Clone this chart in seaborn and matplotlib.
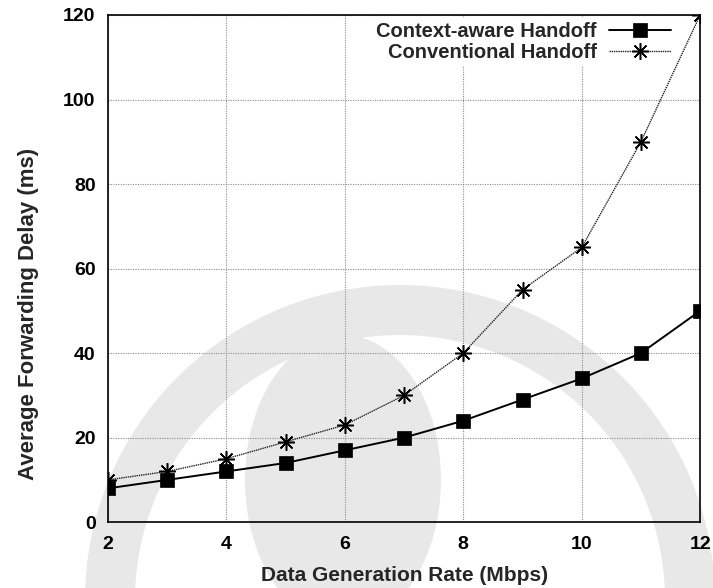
import matplotlib
matplotlib.use("Agg")
import matplotlib.pyplot as plt
import seaborn as sns
import pandas as pd
from matplotlib.patches import Wedge, Ellipse
from matplotlib.font_manager import FontProperties

rates = [2, 3, 4, 5, 6, 7, 8, 9, 10, 11, 12]
context_aware = [8, 10, 12, 14, 17, 20, 24, 29, 34, 40, 50]
conventional = [10, 12, 15, 19, 23, 30, 40, 55, 65, 90, 120]
x_ticks = [2, 4, 6, 8, 10, 12]
y_ticks = [0, 20, 40, 60, 80, 100, 120]

sns.set_theme(style="white")
plt.rcParams['font.family'] = ['Liberation Sans', 'DejaVu Sans']
plt.rcParams['font.weight'] = 'bold'

fig = plt.figure(figsize=(7.13, 5.88), dpi=100)

# faint background watermark (pixel coordinates)
bg = fig.add_axes([0, 0, 1, 1], zorder=-1)
bg.set_xlim(0, 713)
bg.set_ylim(588, 0)
bg.axis('off')
wm = '#e8e8e8'
bg.add_patch(Wedge((400, 600), 315, 180, 360, width=50, facecolor=wm, edgecolor='none'))
bg.add_patch(Ellipse((343, 480), 196, 290, facecolor=wm, edgecolor='none'))

ax = fig.add_axes([0.1515, 0.112, 0.8305, 0.8625], zorder=1)
ax.set_facecolor('none')

df = pd.DataFrame({"rate": rates, "ca": context_aware, "cv": conventional})

sns.lineplot(data=df, x="rate", y="ca", ax=ax, color='black', linewidth=1.4,
             marker='s', markersize=10, markeredgecolor='black', markeredgewidth=0.5,
             label='Context-aware Handoff', zorder=3)
sns.lineplot(data=df, x="rate", y="cv", ax=ax, color='#222222', linewidth=1.0,
             linestyle=(0, (1, 0.6)), marker=(8, 2, 0), markersize=12,
             markeredgecolor='black', markerfacecolor='black',
             markeredgewidth=1.1, label='Conventional Handoff', zorder=3)

ax.set_xlim(2, 12)
ax.set_ylim(0, 120)
ax.set_xticks(x_ticks)
ax.set_yticks(y_ticks)
ax.grid(True, color='#8a8a8a', linestyle=(0, (1, 1.2)), linewidth=0.8)
for s in ax.spines.values():
    s.set_color('black')
    s.set_linewidth(1.2)
ax.tick_params(axis='x', labelsize=14, direction='in', length=4, pad=10, colors='black')
ax.tick_params(axis='y', labelsize=14, direction='in', length=4, pad=9, colors='black')
for lab in ax.get_xticklabels() + ax.get_yticklabels():
    lab.set_fontweight('bold')
ax.set_xlabel('Data Generation Rate (Mbps)', fontsize=15, fontweight='bold', labelpad=9)
ax.set_ylabel('Average Forwarding Delay (ms)', fontsize=16, fontweight='bold')
ax.yaxis.set_label_coords(-0.117, 0.41)

legfont = FontProperties(family=['Liberation Sans'], weight='bold', size=14.5)
handles, labels = ax.get_legend_handles_labels()
leg = ax.legend(handles, labels, loc='upper right', bbox_to_anchor=(0.958, 0.995),
                frameon=True, markerfirst=False,
                handlelength=3.1, borderpad=0.2, labelspacing=0.12, borderaxespad=0,
                handletextpad=0.6, prop=legfont)
leg.get_frame().set_facecolor('white')
leg.get_frame().set_edgecolor('none')
leg.get_frame().set_alpha(1)
for t in leg.get_texts():
    t.set_ha('right')
    t.set_fontproperties(legfont)
leg._legend_box.align = 'right'

fig.savefig('out.png', dpi=100)
